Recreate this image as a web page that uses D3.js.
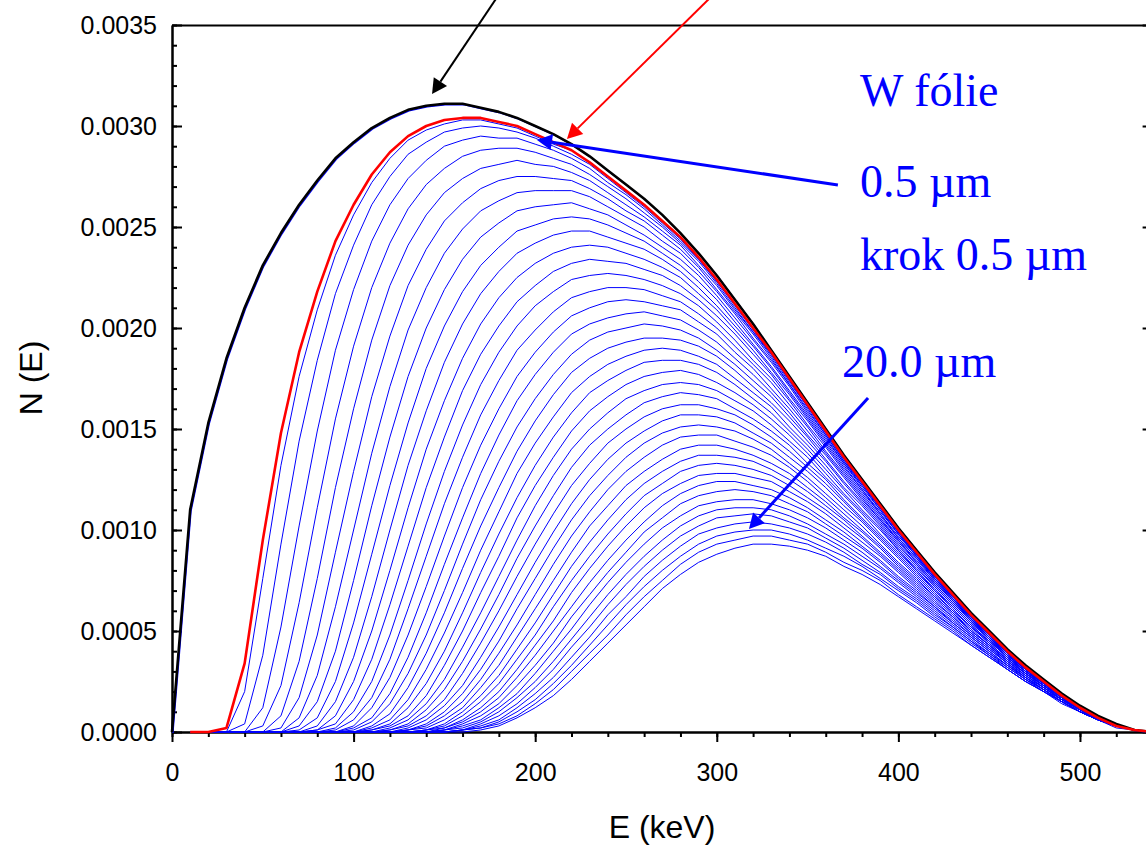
<!DOCTYPE html>
<html>
<head>
<meta charset="utf-8">
<script src="https://cdn.jsdelivr.net/npm/d3@7"></script>
<style>
  body { margin: 0; background: #fff; }
  svg { display: block; }
</style>
</head>
<body>
<svg width="1146" height="848"></svg>
<script>
// Energy grid (keV)
const energies = [0, 10, 20, 30, 40, 50, 60, 70, 80, 90, 100, 110, 120, 130, 140, 150, 160, 170, 180, 190, 200,
  210, 220, 230, 240, 250, 260, 270, 280, 290, 300, 310, 320, 330, 340, 350, 360, 370, 380, 390, 400,
  410, 420, 430, 440, 450, 460, 470, 480, 490, 500, 510, 520, 530, 540];

// N(E) values in units of 1e-5
const unit = 1e-5;

// source spectrum (black)
const black = [0, 110, 153, 185, 210, 231, 247, 261, 273, 284, 292, 299, 304, 308, 310, 311, 311, 309, 307, 304, 300, 296, 291, 285, 278, 271, 264, 256, 247, 237, 226, 214, 202, 189, 176, 163, 150, 137, 125, 113, 101, 90, 79, 69, 59, 50, 41, 33, 26, 19, 13, 8, 4, 1, 0];
// reference spectrum (red)
const red = [null, 0, 0, 2, 34, 95, 148, 188, 218, 243, 261, 276, 287, 295, 300, 303, 304, 304, 302, 300, 296, 292, 288, 282, 275, 268, 261, 253, 245, 235, 224, 212, 200, 188, 175, 162, 149, 136, 124, 112, 100, 89, 78, 68, 58, 49, 40, 32, 25, 18, 12, 7, 3, 1, 0];

// W foil, thickness 0.5 um ... 20.0 um, step 0.5 um (blue)
const w0_5 = [null, 0, 0, 0, 20, 76, 132, 176, 209, 236, 256, 272, 284, 293, 298, 301, 303, 303, 301, 299, 295, 291, 288, 282, 275, 268, 261, 253, 245, 235, 224, 212, 200, 188, 175, 162, 149, 136, 124, 112, 100, 89, 78, 68, 58, 49, 40, 32, 25, 18, 12, 7, 3, 1, 0];
const w1_0 = [null, 0, 0, 0, 4, 38, 93, 144, 184, 217, 241, 261, 275, 286, 292, 297, 299, 300, 299, 297, 294, 290, 286, 281, 274, 267, 260, 252, 244, 234, 223, 212, 200, 188, 175, 162, 149, 136, 124, 112, 100, 89, 78, 68, 58, 49, 40, 32, 25, 18, 12, 7, 3, 1, 0];
const w1_5 = [null, 0, 0, 0, 0, 12, 52, 102, 149, 189, 219, 243, 261, 274, 283, 290, 293, 295, 294, 294, 291, 288, 284, 279, 272, 266, 259, 251, 243, 234, 223, 211, 199, 187, 174, 161, 149, 136, 124, 112, 100, 89, 78, 68, 58, 49, 40, 32, 25, 18, 12, 7, 3, 1, 0];
const w2_0 = [null, 0, 0, 0, 0, 3, 23, 64, 111, 155, 191, 220, 242, 259, 271, 279, 285, 288, 289, 289, 287, 284, 281, 276, 270, 264, 257, 250, 242, 233, 222, 210, 198, 187, 174, 161, 148, 135, 123, 112, 100, 89, 78, 68, 58, 49, 40, 32, 25, 18, 12, 7, 3, 1, 0];
const w2_5 = [null, 0, 0, 0, 0, 0, 8, 35, 76, 121, 160, 194, 221, 241, 256, 267, 274, 279, 281, 283, 281, 280, 277, 273, 267, 261, 255, 248, 241, 231, 221, 209, 198, 186, 173, 161, 148, 135, 123, 111, 99, 88, 78, 68, 58, 49, 40, 32, 25, 18, 12, 7, 3, 1, 0];
const w3_0 = [null, 0, 0, 0, 0, 0, 2, 17, 48, 89, 129, 166, 196, 221, 239, 253, 262, 269, 273, 275, 275, 274, 273, 269, 264, 258, 253, 246, 239, 230, 219, 208, 197, 185, 172, 160, 147, 134, 123, 111, 99, 88, 77, 68, 58, 49, 40, 32, 25, 18, 12, 7, 3, 1, 0];
const w3_5 = [null, 0, 0, 0, 0, 0, 0, 7, 28, 62, 100, 138, 171, 199, 220, 237, 249, 258, 263, 267, 268, 268, 268, 265, 260, 255, 250, 243, 237, 228, 218, 207, 195, 184, 172, 159, 147, 134, 122, 111, 99, 88, 77, 67, 57, 49, 40, 32, 25, 18, 12, 7, 3, 1, 0];
const w4_0 = [null, 0, 0, 0, 0, 0, 0, 3, 15, 40, 75, 112, 146, 176, 200, 219, 234, 245, 252, 258, 260, 261, 262, 259, 256, 251, 246, 240, 234, 226, 216, 205, 194, 183, 171, 158, 146, 133, 122, 110, 98, 88, 77, 67, 57, 48, 40, 32, 25, 18, 12, 7, 3, 1, 0];
const w4_5 = [null, 0, 0, 0, 0, 0, 0, 1, 7, 25, 54, 88, 122, 153, 180, 201, 218, 231, 240, 248, 251, 254, 255, 254, 251, 247, 243, 237, 231, 223, 214, 203, 192, 181, 169, 157, 145, 133, 121, 110, 98, 87, 77, 67, 57, 48, 39, 32, 25, 18, 12, 7, 3, 1, 0];
const w5_0 = [null, 0, 0, 0, 0, 0, 0, 0, 3, 15, 37, 67, 100, 132, 159, 183, 202, 217, 228, 237, 242, 246, 248, 248, 245, 242, 239, 234, 228, 220, 211, 201, 191, 180, 168, 156, 144, 132, 120, 109, 98, 87, 76, 67, 57, 48, 39, 31, 25, 18, 12, 7, 3, 1, 0];
const w5_5 = [null, 0, 0, 0, 0, 0, 0, 0, 1, 8, 25, 50, 80, 111, 140, 164, 185, 202, 215, 225, 232, 237, 240, 241, 240, 237, 234, 230, 225, 217, 209, 199, 189, 178, 167, 155, 143, 131, 120, 108, 97, 87, 76, 66, 57, 48, 39, 31, 25, 18, 12, 7, 3, 1, 0];
const w6_0 = [null, 0, 0, 0, 0, 0, 0, 0, 1, 4, 16, 36, 63, 92, 121, 146, 169, 187, 201, 213, 221, 228, 232, 234, 233, 232, 229, 226, 221, 214, 206, 197, 187, 177, 165, 154, 142, 130, 119, 108, 96, 86, 76, 66, 56, 48, 39, 31, 24, 18, 12, 7, 3, 1, 0];
const w6_5 = [null, 0, 0, 0, 0, 0, 0, 0, 0, 2, 10, 25, 48, 75, 103, 129, 152, 172, 188, 201, 211, 218, 224, 226, 227, 226, 224, 221, 217, 211, 203, 194, 184, 175, 164, 152, 141, 129, 118, 107, 96, 86, 75, 66, 56, 48, 39, 31, 24, 18, 12, 7, 3, 1, 0];
const w7_0 = [null, 0, 0, 0, 0, 0, 0, 0, 0, 1, 6, 17, 36, 61, 87, 113, 136, 157, 174, 189, 199, 208, 215, 218, 220, 220, 219, 216, 213, 207, 200, 191, 182, 173, 162, 151, 139, 128, 117, 106, 95, 85, 75, 65, 56, 47, 39, 31, 24, 18, 12, 7, 3, 1, 0];
const w7_5 = [null, 0, 0, 0, 0, 0, 0, 0, 0, 0, 3, 12, 27, 48, 72, 97, 121, 142, 160, 176, 188, 198, 206, 210, 213, 214, 213, 211, 209, 203, 197, 188, 180, 170, 160, 149, 138, 127, 116, 105, 95, 84, 74, 65, 56, 47, 39, 31, 24, 17, 12, 7, 3, 1, 0];
const w8_0 = [null, 0, 0, 0, 0, 0, 0, 0, 0, 0, 2, 7, 19, 37, 59, 83, 106, 128, 147, 164, 177, 188, 197, 202, 205, 207, 208, 206, 204, 199, 193, 185, 177, 168, 158, 147, 137, 126, 115, 105, 94, 84, 74, 65, 55, 47, 38, 31, 24, 17, 12, 7, 3, 1, 0];
const w8_5 = [null, 0, 0, 0, 0, 0, 0, 0, 0, 0, 1, 5, 14, 29, 48, 70, 93, 115, 134, 151, 165, 177, 187, 194, 198, 200, 202, 201, 199, 195, 189, 182, 174, 166, 156, 146, 135, 124, 114, 104, 93, 83, 73, 64, 55, 47, 38, 31, 24, 17, 12, 7, 3, 1, 0];
const w9_0 = [null, 0, 0, 0, 0, 0, 0, 0, 0, 0, 0, 3, 9, 22, 39, 59, 81, 102, 121, 139, 154, 167, 178, 185, 190, 193, 195, 195, 194, 191, 186, 179, 171, 163, 154, 144, 134, 123, 113, 103, 92, 83, 73, 64, 55, 46, 38, 30, 24, 17, 11, 7, 3, 1, 0];
const w9_5 = [null, 0, 0, 0, 0, 0, 0, 0, 0, 0, 0, 2, 6, 16, 31, 49, 69, 90, 109, 128, 143, 156, 168, 176, 182, 186, 189, 190, 189, 186, 182, 175, 168, 161, 151, 142, 132, 121, 112, 102, 91, 82, 72, 63, 54, 46, 38, 30, 24, 17, 11, 7, 3, 1, 0];
const w10_0 = [null, 0, 0, 0, 0, 0, 0, 0, 0, 0, 0, 1, 4, 12, 24, 40, 59, 79, 98, 116, 132, 146, 158, 168, 174, 179, 183, 184, 184, 182, 178, 172, 165, 158, 149, 140, 130, 120, 110, 101, 90, 81, 72, 63, 54, 46, 37, 30, 24, 17, 11, 7, 3, 1, 0];
const w10_5 = [null, 0, 0, 0, 0, 0, 0, 0, 0, 0, 0, 1, 3, 8, 18, 33, 50, 69, 87, 106, 122, 136, 149, 159, 166, 172, 176, 178, 179, 177, 173, 168, 162, 155, 147, 138, 128, 118, 109, 100, 90, 80, 71, 62, 53, 45, 37, 30, 23, 17, 11, 7, 3, 1, 0];
const w11_0 = [null, 0, 0, 0, 0, 0, 0, 0, 0, 0, 0, 0, 2, 6, 14, 26, 42, 59, 77, 95, 112, 127, 140, 150, 158, 165, 169, 172, 173, 172, 169, 164, 159, 152, 144, 136, 126, 117, 108, 98, 89, 80, 70, 62, 53, 45, 37, 30, 23, 17, 11, 7, 3, 1, 0];
const w11_5 = [null, 0, 0, 0, 0, 0, 0, 0, 0, 0, 0, 0, 1, 4, 11, 21, 35, 51, 68, 86, 102, 117, 131, 142, 150, 157, 163, 166, 168, 167, 165, 160, 155, 149, 142, 133, 125, 115, 106, 97, 88, 79, 70, 61, 52, 45, 37, 29, 23, 17, 11, 7, 3, 1, 0];
const w12_0 = [null, 0, 0, 0, 0, 0, 0, 0, 0, 0, 0, 0, 1, 3, 8, 16, 29, 44, 60, 77, 93, 108, 122, 133, 143, 150, 156, 160, 162, 162, 160, 157, 152, 146, 139, 131, 123, 114, 105, 96, 87, 78, 69, 60, 52, 44, 36, 29, 23, 17, 11, 7, 3, 1, 0];
const w12_5 = [null, 0, 0, 0, 0, 0, 0, 0, 0, 0, 0, 0, 0, 2, 6, 13, 23, 37, 52, 68, 84, 99, 113, 125, 135, 143, 149, 154, 157, 157, 156, 153, 148, 143, 136, 129, 121, 112, 104, 95, 86, 77, 68, 60, 52, 44, 36, 29, 23, 16, 11, 6, 3, 1, 0];
const w13_0 = [null, 0, 0, 0, 0, 0, 0, 0, 0, 0, 0, 0, 0, 1, 4, 10, 19, 31, 45, 61, 76, 91, 105, 117, 127, 136, 143, 148, 151, 152, 151, 149, 145, 140, 133, 126, 118, 110, 102, 93, 84, 76, 67, 59, 51, 43, 36, 29, 23, 16, 11, 6, 3, 1, 0];
const w13_5 = [null, 0, 0, 0, 0, 0, 0, 0, 0, 0, 0, 0, 0, 1, 3, 8, 15, 26, 39, 53, 68, 83, 97, 109, 120, 129, 136, 142, 146, 147, 147, 144, 141, 137, 131, 124, 116, 108, 100, 92, 83, 75, 67, 59, 50, 43, 35, 29, 22, 16, 11, 6, 3, 1, 0];
const w14_0 = [null, 0, 0, 0, 0, 0, 0, 0, 0, 0, 0, 0, 0, 1, 2, 6, 12, 22, 33, 47, 61, 75, 89, 102, 112, 122, 129, 135, 140, 142, 142, 140, 137, 133, 128, 121, 114, 106, 99, 91, 82, 74, 66, 58, 50, 43, 35, 28, 22, 16, 11, 6, 3, 1, 0];
const w14_5 = [null, 0, 0, 0, 0, 0, 0, 0, 0, 0, 0, 0, 0, 0, 1, 4, 10, 18, 28, 41, 54, 68, 82, 94, 105, 115, 123, 129, 134, 137, 137, 136, 134, 130, 125, 119, 112, 105, 97, 89, 81, 73, 65, 57, 49, 42, 35, 28, 22, 16, 11, 6, 3, 1, 0];
const w15_0 = [null, 0, 0, 0, 0, 0, 0, 0, 0, 0, 0, 0, 0, 0, 1, 3, 8, 15, 24, 36, 48, 62, 75, 87, 98, 108, 117, 123, 129, 132, 133, 132, 130, 127, 122, 116, 110, 103, 96, 88, 80, 72, 64, 57, 49, 42, 34, 28, 22, 16, 11, 6, 3, 1, 0];
const w15_5 = [null, 0, 0, 0, 0, 0, 0, 0, 0, 0, 0, 0, 0, 0, 1, 2, 6, 12, 20, 31, 43, 55, 69, 81, 92, 102, 111, 118, 123, 127, 128, 128, 126, 124, 119, 114, 108, 101, 94, 87, 79, 71, 63, 56, 48, 41, 34, 27, 22, 16, 11, 6, 3, 1, 0];
const w16_0 = [null, 0, 0, 0, 0, 0, 0, 0, 0, 0, 0, 0, 0, 0, 0, 2, 5, 10, 17, 27, 38, 50, 62, 74, 85, 95, 104, 112, 118, 122, 124, 124, 122, 120, 116, 111, 105, 99, 92, 85, 77, 70, 62, 55, 48, 41, 34, 27, 21, 16, 10, 6, 3, 1, 0];
const w16_5 = [null, 0, 0, 0, 0, 0, 0, 0, 0, 0, 0, 0, 0, 0, 0, 1, 4, 8, 14, 23, 33, 44, 57, 68, 79, 89, 99, 106, 113, 117, 119, 120, 119, 117, 113, 109, 103, 97, 91, 84, 76, 69, 62, 54, 47, 40, 33, 27, 21, 15, 10, 6, 3, 1, 0];
const w17_0 = [null, 0, 0, 0, 0, 0, 0, 0, 0, 0, 0, 0, 0, 0, 0, 1, 3, 6, 12, 19, 29, 40, 51, 63, 74, 84, 93, 101, 107, 112, 114, 115, 115, 113, 110, 106, 101, 95, 89, 82, 75, 68, 61, 54, 47, 40, 33, 27, 21, 15, 10, 6, 3, 1, 0];
const w17_5 = [null, 0, 0, 0, 0, 0, 0, 0, 0, 0, 0, 0, 0, 0, 0, 1, 2, 5, 10, 17, 25, 35, 46, 57, 68, 78, 87, 95, 102, 107, 110, 111, 111, 110, 107, 103, 98, 93, 87, 81, 74, 67, 60, 53, 46, 39, 33, 26, 21, 15, 10, 6, 3, 1, 0];
const w18_0 = [null, 0, 0, 0, 0, 0, 0, 0, 0, 0, 0, 0, 0, 0, 0, 0, 1, 4, 8, 14, 22, 31, 42, 52, 63, 73, 82, 90, 97, 102, 106, 107, 108, 107, 104, 101, 96, 91, 85, 79, 72, 66, 59, 52, 45, 39, 32, 26, 21, 15, 10, 6, 3, 1, 0];
const w18_5 = [null, 0, 0, 0, 0, 0, 0, 0, 0, 0, 0, 0, 0, 0, 0, 0, 1, 3, 6, 12, 19, 27, 37, 47, 58, 67, 77, 85, 92, 98, 101, 103, 104, 103, 101, 98, 94, 89, 83, 78, 71, 65, 58, 52, 45, 38, 32, 26, 20, 15, 10, 6, 3, 1, 0];
const w19_0 = [null, 0, 0, 0, 0, 0, 0, 0, 0, 0, 0, 0, 0, 0, 0, 0, 1, 2, 5, 10, 16, 24, 33, 43, 53, 63, 72, 80, 87, 93, 97, 99, 100, 100, 98, 95, 91, 87, 82, 76, 70, 64, 57, 51, 44, 38, 31, 25, 20, 15, 10, 6, 3, 1, 0];
const w19_5 = [null, 0, 0, 0, 0, 0, 0, 0, 0, 0, 0, 0, 0, 0, 0, 0, 1, 2, 4, 8, 14, 21, 30, 39, 48, 58, 67, 75, 83, 89, 93, 95, 97, 97, 95, 93, 89, 84, 80, 75, 68, 62, 56, 50, 43, 37, 31, 25, 20, 15, 10, 6, 3, 1, 0];
const w20_0 = [null, 0, 0, 0, 0, 0, 0, 0, 0, 0, 0, 0, 0, 0, 0, 0, 0, 1, 3, 7, 12, 18, 26, 35, 44, 53, 62, 71, 78, 84, 88, 91, 93, 93, 92, 90, 87, 82, 78, 73, 67, 61, 55, 49, 43, 37, 31, 25, 20, 14, 10, 6, 2, 1, 0];

const foilSeries = [w0_5, w1_0, w1_5, w2_0, w2_5, w3_0, w3_5, w4_0, w4_5, w5_0,
  w5_5, w6_0, w6_5, w7_0, w7_5, w8_0, w8_5, w9_0, w9_5, w10_0,
  w10_5, w11_0, w11_5, w12_0, w12_5, w13_0, w13_5, w14_0, w14_5, w15_0,
  w15_5, w16_0, w16_5, w17_0, w17_5, w18_0, w18_5, w19_0, w19_5, w20_0];

// axis ticks
const yMajor = [0, 0.0005, 0.0010, 0.0015, 0.0020, 0.0025, 0.0030, 0.0035];
const xMajor = [0, 100, 200, 300, 400, 500];

const svg = d3.select("svg");
const x = d3.scaleLinear().domain([0, 540]).range([172, 1152.6]);
const y = d3.scaleLinear().domain([0, 0.0035]).range([732, 25]);

const sans = "'Liberation Sans', Arial, Helvetica, sans-serif";
const serif = "'Liberation Serif', 'Times New Roman', Times, serif";

function styleAxis(g, w) {
    g.selectAll("path, line").attr("stroke", "#000").attr("stroke-width", w);
    g.selectAll("text").attr("font-size", 25).attr("font-family", sans).attr("fill", "#000");
}

// frame: top and right
svg.append("g").attr("transform", `translate(0,${y(0.0035)})`)
    .call(d3.axisTop(x).tickValues([]).tickSizeOuter(0))
    .call(g => styleAxis(g, 2));
svg.append("g").attr("transform", `translate(${x(540)},0)`)
    .call(d3.axisRight(y).tickValues(y.ticks(35)).tickSizeInner(-5).tickSizeOuter(0).tickFormat(""))
    .call(g => styleAxis(g, 2));
svg.append("g").attr("transform", `translate(${x(540)},0)`)
    .call(d3.axisRight(y).tickValues(yMajor).tickSizeInner(-10).tickSizeOuter(0).tickFormat(""))
    .call(g => styleAxis(g, 2));

// left axis, ticks inside
svg.append("g").attr("transform", `translate(${x(0)},0)`)
    .call(d3.axisLeft(y).tickValues(y.ticks(35)).tickSizeInner(-5).tickSizeOuter(0).tickFormat(""))
    .call(g => styleAxis(g, 2));
svg.append("g").attr("transform", `translate(${x(0)},0)`)
    .call(d3.axisLeft(y).tickValues(yMajor).tickSizeInner(-10).tickSizeOuter(0).tickPadding(15).tickFormat(d3.format(".4f")))
    .call(g => styleAxis(g, 2));

// bottom axis, ticks outside
svg.append("g").attr("transform", `translate(0,${y(0)})`)
    .call(d3.axisBottom(x).tickValues(d3.range(0, 541, 20)).tickSize(5).tickSizeOuter(0).tickFormat(""))
    .call(g => styleAxis(g, 2));
svg.append("g").attr("transform", `translate(0,${y(0)})`)
    .call(d3.axisBottom(x).tickValues(xMajor).tickSize(10).tickSizeOuter(0).tickPadding(21))
    .call(g => styleAxis(g, 2));

// axis titles
svg.append("text").attr("x", 662).attr("y", 838).attr("text-anchor", "middle")
    .attr("font-family", sans).attr("font-size", 32).text("E (keV)");
svg.append("text").attr("transform", "translate(42,378) rotate(-90)").attr("text-anchor", "middle")
    .attr("font-family", sans).attr("font-size", 32).text("N (E)");

// curves
const pts = arr => energies.map((e, i) => [e, arr[i]]);
const line = d3.line()
    .defined(d => d[1] != null)
    .x(d => x(d[0]))
    .y(d => y(d[1] * unit));

const curves = svg.append("g").attr("fill", "none").attr("stroke-linejoin", "round");
foilSeries.forEach(s => {
    curves.append("path").datum(pts(s)).attr("stroke", "#0000ff").attr("stroke-width", 1).attr("d", line);
});
// blue copy of the unfiltered spectrum shows along the black line
curves.append("path").datum(pts(black)).attr("transform", "translate(1,1)")
    .attr("stroke", "#0000ff").attr("stroke-width", 1.2).attr("d", line);
curves.append("path").datum(pts(black)).attr("stroke", "#000000").attr("stroke-width", 2.6).attr("d", line);
curves.append("path").datum(pts(red)).attr("stroke", "#ff0000").attr("stroke-width", 2.6).attr("d", line);

// arrows, given in data coordinates (start -> tip)
function arrow(e1, v1, e2, v2, color, w) {
    const x1 = x(e1), y1 = y(v1), x2 = x(e2), y2 = y(v2);
    const a = Math.atan2(y2 - y1, x2 - x1);
    const len = 15, half = 8;
    const bx = x2 - len * Math.cos(a), by = y2 - len * Math.sin(a);
    svg.append("line").attr("x1", x1).attr("y1", y1).attr("x2", bx).attr("y2", by)
        .attr("stroke", color).attr("stroke-width", w);
    svg.append("polygon")
        .attr("points", [[x2, y2],
            [bx + half * Math.sin(a), by - half * Math.cos(a)],
            [bx - half * Math.sin(a), by + half * Math.cos(a)]].map(p => p.join(",")).join(" "))
        .attr("fill", color);
}
arrow(185.4, 0.003723, 143.2, 0.003158, "#000000", 2);
arrow(306.3, 0.003723, 217.5, 0.002936, "#ff0000", 2);
arrow(366.7, 0.002708, 201.0, 0.002931, "#0000ff", 3);
arrow(383.3, 0.001653, 317.7, 0.001005, "#0000ff", 3);

// annotations
const notes = [
    { text: "W fólie", e: 378.9, v: 0.003099 },
    { text: "0.5 µm", e: 378.9, v: 0.002649 },
    { text: "krok 0.5 µm", e: 378.9, v: 0.002287 },
    { text: "20.0 µm", e: 368.9, v: 0.001757 }
];
svg.append("g").selectAll("text").data(notes).join("text")
    .attr("x", d => x(d.e)).attr("y", d => y(d.v))
    .attr("font-family", serif).attr("font-size", 46).attr("fill", "#0000ff")
    .text(d => d.text);
</script>
</body>
</html>
